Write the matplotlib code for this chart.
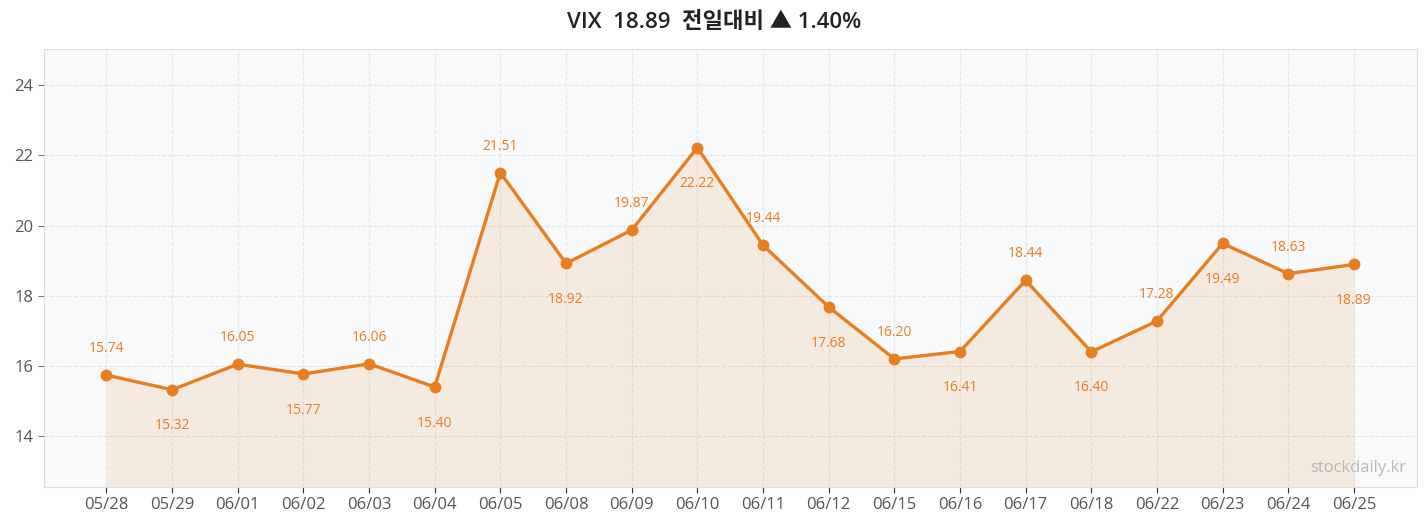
import matplotlib.pyplot as plt

plt.rcParams['font.family'] = ['Open Sans', 'Noto Sans CJK KR', 'DejaVu Sans']

# 데이터
dates = ['05/28', '05/29', '06/01', '06/02', '06/03', '06/04', '06/05', '06/08', '06/09', '06/10',
         '06/11', '06/12', '06/15', '06/16', '06/17', '06/18', '06/22', '06/23', '06/24', '06/25']
vix = [15.74, 15.32, 16.05, 15.77, 16.06, 15.40, 21.51, 18.92, 19.87, 22.22,
       19.44, 17.68, 16.20, 16.41, 18.44, 16.40, 17.28, 19.49, 18.63, 18.89]
title = 'VIX  18.89  전일대비 ▲ 1.40%'

color = '#E67E22'
ymin, ymax = 12.55, 25.03

fig = plt.figure(figsize=(14.28, 5.27), dpi=100)
ax = fig.add_axes([44 / 1428, 1 - 487 / 527, (1417 - 44) / 1428, (487 - 49) / 527])
ax.set_facecolor('#F8F9FA')

x = list(range(len(vix)))
ax.fill_between(x, vix, ymin, color=color, alpha=0.12, linewidth=0)
ax.plot(x, vix, color=color, linewidth=2.4, marker='o', markersize=7.5, zorder=3)

# 값 라벨 (위/아래 번갈아)
for i, v in enumerate(vix):
    if i % 2 == 0:
        off = 19
    else:
        off = -26
    ax.annotate(f'{v:.2f}', (i, v), xytext=(0, off), textcoords='offset points',
                ha='center', va='center', fontsize=10, color=color)

ax.set_xlim(-0.95, 19.96)
ax.set_ylim(ymin, ymax)
ax.set_xticks(x)
ax.set_xticklabels(dates)
ax.set_yticks([14, 16, 18, 20, 22, 24])
ax.tick_params(axis='both', labelsize=12, colors='#555555', length=4)
ax.tick_params(axis='x', color='#333333')
ax.tick_params(axis='y', color='#777777')
ax.grid(True, linestyle='--', color='#E3E5E8', linewidth=0.8)
ax.set_axisbelow(True)
for s in ax.spines.values():
    s.set_color('#DDDFE3')

ax.text(0.992, 0.025, 'stockdaily.kr', transform=ax.transAxes, ha='right', va='bottom',
        fontsize=12, color='#AAAAAA', alpha=0.8)

fig.text(0.5, 1 - 22 / 527, title, ha='center', va='center', fontsize=16,
         fontweight='semibold', color='#222222')

fig.savefig('out.png', dpi=100)
